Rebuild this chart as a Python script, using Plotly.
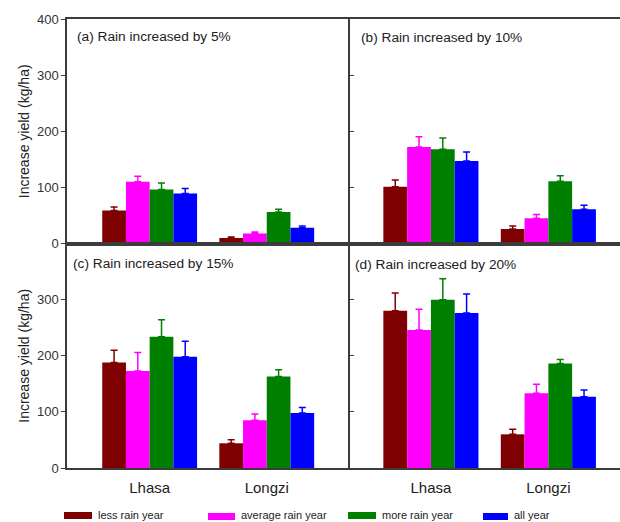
import plotly.graph_objects as go

# Sites on the category axis
sites = ["Lhasa", "Longzi"]

# Panel scenarios
panel_titles = [
    "(a) Rain increased by 5%",
    "(b) Rain increased by 10%",
    "(c) Rain increased by 15%",
    "(d) Rain increased by 20%",
]

# Series names and colours
series_names = ["less rain year", "average rain year", "more rain year", "all year"]
series_colors = ["#7f0000", "#ff00ff", "#008000", "#0000ff"]

# Mean yield increase (kg/ha) per panel, as (Lhasa, Longzi)
less_mean = [(59, 10), (101, 26), (188, 44), (280, 60)]
avg_mean = [(110, 18), (172, 45), (173, 85), (246, 133)]
more_mean = [(96, 56), (168, 111), (234, 163), (300, 186)]
all_mean = [(89, 28), (147, 61), (198, 98), (276, 127)]

# Upper error (kg/ha) per panel, as (Lhasa, Longzi)
less_err = [(6, 1.5), (12, 5), (22, 6.5), (32, 9)]
avg_err = [(10, 2.5), (18, 6.5), (33, 11), (37, 16)]
more_err = [(12, 5), (20, 9.5), (30, 12), (37, 7.5)]
all_err = [(9, 3), (16, 7), (28, 10), (34, 12)]

means = [less_mean, avg_mean, more_mean, all_mean]
errs = [less_err, avg_err, more_err, all_err]

y_ticks_top = [0, 100, 200, 300, 400]
y_ticks_bottom = [0, 100, 200, 300]

W, H = 620, 522
AX = "#3c3c3c"
TXT = "#222222"
FONT = "Liberation Sans, Arial, sans-serif"


def px_x(v):
    return v / W


def px_y(v):
    return 1 - v / H


# Panel layout in pixels
left_x = (67, 348)
right_x = (348, W)
top_y = (19, 243.5)
bot_y = (243.5, 468)

fig = go.Figure()

axis_ids = ["", "2", "3", "4"]
for p in range(4):
    aid = axis_ids[p]
    for s in range(4):
        fig.add_trace(go.Bar(
            x=sites,
            y=list(means[s][p]),
            name=series_names[s],
            marker=dict(color=series_colors[s], line=dict(width=0)),
            error_y=dict(type="data", symmetric=False, array=list(errs[s][p]),
                         arrayminus=[0, 0], color=series_colors[s],
                         thickness=1.5, width=3.5),
            xaxis="x" + aid, yaxis="y" + aid,
            showlegend=False,
        ))

layout = dict(
    width=W, height=H,
    autosize=False,
    margin=dict(l=0, r=0, t=0, b=0, pad=0, autoexpand=False),
    paper_bgcolor="white", plot_bgcolor="white",
    barmode="group", bargap=0.19, bargroupgap=0,
    font=dict(family=FONT, color=TXT),
    showlegend=False,
)

panels = [
    (left_x, top_y, True, False, [-0.706, 1.694]),
    (right_x, top_y, False, False, [-0.706, 1.61]),
    (left_x, bot_y, True, True, [-0.706, 1.694]),
    (right_x, bot_y, False, True, [-0.706, 1.61]),
]

for p, (xd, yd, is_left, is_bottom, xr) in enumerate(panels):
    aid = axis_ids[p]
    xkey = "xaxis" + aid
    ykey = "yaxis" + aid
    layout[xkey] = dict(
        domain=[px_x(xd[0]), px_x(xd[1])],
        anchor="y" + aid,
        range=xr,
        automargin=False,
        showline=True, linecolor=AX, linewidth=1.5, mirror=True,
        ticks="", showgrid=False, zeroline=False,
        showticklabels=is_bottom,
        tickfont=dict(size=15, color=TXT, family=FONT),
        ticklabelstandoff=5,
    )
    ydict = dict(
        domain=[px_y(yd[1]), px_y(yd[0])],
        anchor="x" + aid,
        range=[0, 400],
        automargin=False,
        # left panels draw both frame sides; the divider doubles as the right panels' axis
        showline=is_left, linecolor=AX, linewidth=1.5,
        mirror=is_left,
        showgrid=False, zeroline=False,
        tickvals=y_ticks_top if not is_bottom else y_ticks_bottom,
        tickcolor=AX, tickwidth=1.2,
        tickfont=dict(size=13, color="#333333", family=FONT),
    )
    if is_left:
        ydict.update(ticks="outside", ticklen=4, showticklabels=True)
    else:
        ydict.update(ticks="inside", ticklen=6, showticklabels=False)
    layout[ykey] = ydict

fig.update_layout(**layout)

# Panel captions
caption_pos = [(75, 36.7), (359, 37), (71, 263), (353, 264)]
for title, (cx, cy) in zip(panel_titles, caption_pos):
    fig.add_annotation(
        text=title, xref="paper", yref="paper",
        x=px_x(cx), y=px_y(cy), xanchor="left", yanchor="middle",
        showarrow=False, font=dict(size=13.7, color=TXT, family=FONT),
    )

# Y axis titles
for cy in [(top_y[0] + top_y[1]) / 2, (bot_y[0] + bot_y[1]) / 2]:
    fig.add_annotation(
        text="Increase yield (kg/ha)", xref="paper", yref="paper",
        x=px_x(24), y=px_y(cy), xanchor="center", yanchor="middle",
        textangle=-90, showarrow=False,
        font=dict(size=14, color=TXT, family=FONT),
    )

# Legend along the bottom edge
swatches = [(64, 92, 512, 519), (208, 235, 513, 520),
            (348, 376, 512, 519), (483, 508, 513, 520)]
for name, color, (x0, x1, y0, y1) in zip(series_names, series_colors, swatches):
    fig.add_shape(type="rect", xref="paper", yref="paper",
                  x0=px_x(x0), x1=px_x(x1), y0=px_y(y1), y1=px_y(y0),
                  fillcolor=color, line=dict(width=0))
    fig.add_annotation(
        text=name, xref="paper", yref="paper",
        x=px_x(x1 + 4), y=px_y(515),
        xanchor="left", yanchor="middle", showarrow=False,
        font=dict(size=11, color=TXT, family=FONT),
    )

fig.write_html("out.html")
